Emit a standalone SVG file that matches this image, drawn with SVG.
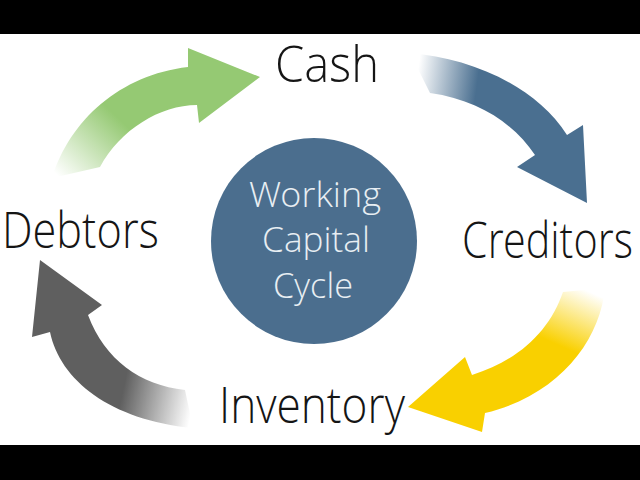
<svg xmlns="http://www.w3.org/2000/svg" width="640" height="480" viewBox="0 0 640 480">
<defs>
<style>
.lbl{font-family:"Open Sans Light","Open Sans","Liberation Sans",sans-serif;font-weight:300;font-size:50px;fill:#151515}
.ctr{font-family:"Open Sans Light","Open Sans","Liberation Sans",sans-serif;font-weight:300;font-size:35px;fill:#e8eef3;text-anchor:middle}
</style>
<linearGradient id="gGreen" gradientUnits="userSpaceOnUse" x1="60" y1="178" x2="118" y2="118">
<stop offset="0" stop-color="#ffffff"/><stop offset="1" stop-color="#95c973"/>
</linearGradient>
<linearGradient id="gBlue" gradientUnits="userSpaceOnUse" x1="418" y1="70" x2="478" y2="78">
<stop offset="0" stop-color="#ffffff"/><stop offset="1" stop-color="#4a6f90"/>
</linearGradient>
<linearGradient id="gYellow" gradientUnits="userSpaceOnUse" x1="590" y1="292" x2="565" y2="348">
<stop offset="0" stop-color="#ffffff"/><stop offset="1" stop-color="#f9d000"/>
</linearGradient>
<linearGradient id="gGray" gradientUnits="userSpaceOnUse" x1="122" y1="395" x2="192" y2="410">
<stop offset="0" stop-color="#5f5f5f"/><stop offset="1" stop-color="#ffffff"/>
</linearGradient>
</defs>
<rect x="0" y="0" width="640" height="480" fill="#ffffff"/>
<rect x="0" y="0" width="640" height="34" fill="#000000"/>
<rect x="0" y="445" width="640" height="35" fill="#000000"/>

<g id="connectors">
<path id="arrow-debtors-cash" d="M52,178 C70,120 120,75 188,67 L188,48 L260,77 L199,123 L197,105 C160,105 120,130 100,167 Z" fill="url(#gGreen)"/>
<path id="arrow-cash-creditors" d="M410,53 C470,58 535,85 567,135 L583,125 L587,203 L517,167 L535,155 C515,125 480,100 430,93 Z" fill="url(#gBlue)"/>
<path id="arrow-creditors-inventory" d="M605,288 C600,340 560,395 485,413 L482,432 L408,407 L465,357 L472,375 C520,360 550,330 563,292 Z" fill="url(#gYellow)"/>
<path id="arrow-inventory-debtors" d="M40,260 L102,305 L88,315 C105,360 140,385 185,390 L193,428 C110,420 60,380 50,332 L32,337 Z" fill="url(#gGray)"/>
</g>

<g id="node-center">
<circle cx="314" cy="241" r="103" fill="#4b6e8e"/>
<text class="ctr" x="315" y="207" textLength="132" lengthAdjust="spacingAndGlyphs">Working</text>
<text class="ctr" x="316" y="252" textLength="108" lengthAdjust="spacingAndGlyphs">Capital</text>
<text class="ctr" x="313" y="298" textLength="80" lengthAdjust="spacingAndGlyphs">Cycle</text>
</g>
<g id="node-cash"><text class="lbl" x="275" y="82" textLength="104" lengthAdjust="spacingAndGlyphs">Cash</text></g>
<g id="node-creditors"><text class="lbl" x="462" y="258" textLength="171" lengthAdjust="spacingAndGlyphs">Creditors</text></g>
<g id="node-inventory"><text class="lbl" x="219" y="423" textLength="186" lengthAdjust="spacingAndGlyphs">Inventory</text></g>
<g id="node-debtors"><text class="lbl" x="2" y="248" textLength="157" lengthAdjust="spacingAndGlyphs">Debtors</text></g>
</svg>
